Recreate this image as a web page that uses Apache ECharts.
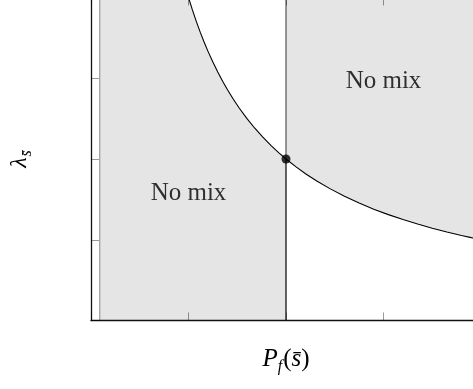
<!DOCTYPE html>
<html>
<head>
<meta charset="utf-8">
<script src="https://cdn.jsdelivr.net/npm/echarts@6/dist/echarts.min.js"></script>
<style>
html, body { margin: 0; padding: 0; background: #fff; }
#chart { width: 473px; height: 389px; }
</style>
</head>
<body>
<div id="chart"></div>
<script>
// boundary curve
var curveX = [1.0, 1.04, 1.08, 1.12, 1.16, 1.2, 1.25, 1.3, 1.35, 1.4, 1.46, 1.52, 1.6, 1.68, 1.76, 1.85, 1.93, 2.0,
	2.1, 2.2, 2.32, 2.45, 2.6, 2.75, 2.9, 3.05, 3.2, 3.35, 3.5, 3.65, 3.8, 3.9, 4.0];
var curveY = [4.0, 3.846, 3.704, 3.571, 3.448, 3.333, 3.2, 3.077, 2.963, 2.857, 2.74, 2.632, 2.5, 2.381, 2.273, 2.162, 2.073, 2.0,
	1.905, 1.818, 1.724, 1.633, 1.538, 1.455, 1.379, 1.311, 1.25, 1.194, 1.143, 1.096, 1.053, 1.026, 1.0];
var splitX = 2;       // vertical boundary
var splitY = 2;       // point on the curve
var fillStartX = 0.09;
var topY = 4;
var labelX = [1, 3];
var labelY = [1.57, 2.96];
var labelText = ['No mix', 'No mix'];

var serif = '"Liberation Serif", "DejaVu Serif", serif';
var fillColor = '#e5e5e5';

function pairs(xs, ys) {
	var out = [];
	for(var i = 0; i < xs.length; i++) {
		out.push([xs[i], ys[i]]);
	}
	return out;
}

var curve = pairs(curveX, curveY);
var leftPart = [[fillStartX, topY]];
var rightPart = [];
for(var i = 0; i < curve.length; i++) {
	if(curve[i][0] <= splitX) leftPart.push(curve[i]);
	if(curve[i][0] >= splitX) rightPart.push(curve[i]);
}

function extend(a, b) {
	for(var k in b) a[k] = b[k];
	return a;
}

function valAxis(pos, showLine, extra) {
	var a = {
		type: 'value',
		position: pos,
		min: 0,
		max: 4,
		interval: 1,
		z: 10,
		axisLine: { show: showLine, onZero: false, lineStyle: { color: '#111', width: 1.3 } },
		axisTick: { show: true, inside: true, length: 8, lineStyle: { color: 'rgba(0,0,0,0.4)', width: 1 } },
		axisLabel: { show: false },
		splitLine: { show: false }
	};
	return extend(a, extra);
}

var labelData = [];
for(var j = 0; j < labelX.length; j++) {
	labelData.push({ value: [labelX[j], labelY[j]], name: labelText[j] });
}

var option = {
	animation: false,
	backgroundColor: '#fff',
	grid: { left: 91, top: -2.5, width: 390, height: 323, containLabel: false, outerBoundsMode: 'none' },
	xAxis: [
		valAxis('bottom', true, {
			name: '{i|P}{sub|f}{n|(}{i|s\u0304}{n|)}',
			nameLocation: 'middle',
			nameGap: 24,
			nameTextStyle: {
				rich: {
					i: { fontFamily: serif, fontStyle: 'italic', fontSize: 25, color: '#000' },
					n: { fontFamily: serif, fontSize: 25, color: '#000' },
					sub: { fontFamily: serif, fontStyle: 'italic', fontSize: 16, color: '#000', padding: [14, 1, 0, 0] }
				}
			}
		}),
		valAxis('top', false, {})
	],
	yAxis: [
		valAxis('left', true, {
			name: '{i|\u03bb}{sub|s\u0304}',
			nameLocation: 'middle',
			nameRotate: 90,
			nameGap: 56,
			nameTextStyle: {
				rich: {
					i: { fontFamily: serif, fontStyle: 'italic', fontSize: 24, color: '#000' },
					sub: { fontFamily: serif, fontStyle: 'italic', fontSize: 16, color: '#000', padding: [14, 0, 0, 1] }
				}
			}
		}),
		valAxis('right', false, {})
	],
	series: [
		{
			type: 'line', data: leftPart, showSymbol: false,
			lineStyle: { width: 0 }, areaStyle: { color: fillColor, opacity: 1, origin: 'start' }, z: 1, silent: true
		},
		{
			type: 'line', data: rightPart, showSymbol: false,
			lineStyle: { width: 0 }, areaStyle: { color: fillColor, opacity: 1, origin: 'end' }, z: 1, silent: true
		},
		{
			type: 'line', data: [[fillStartX, 0], [fillStartX, topY]], showSymbol: false,
			lineStyle: { color: '#888', width: 1 }, z: 2
		},
		{
			type: 'line', data: curve, showSymbol: false,
			lineStyle: { color: '#000', width: 1.1 }, z: 3
		},
		{
			type: 'line', data: [[splitX, 0], [splitX, splitY]], showSymbol: false,
			lineStyle: { color: '#000', width: 1.2 }, z: 3
		},
		{
			type: 'line', data: [[splitX, splitY], [splitX, topY]], showSymbol: false,
			lineStyle: { color: '#555', width: 1.2 }, z: 3
		},
		{
			type: 'scatter', data: [[splitX, splitY]], symbolSize: 9,
			itemStyle: { color: '#000' }, z: 4
		},
		{
			type: 'scatter', data: labelData, symbolSize: 0, z: 5,
			label: {
				show: true, position: 'inside', formatter: '{b}',
				fontFamily: serif, fontSize: 25, color: '#000'
			}
		}
	]
};

var chart = echarts.init(document.getElementById('chart'));
chart.setOption(option);
</script>
</body>
</html>
